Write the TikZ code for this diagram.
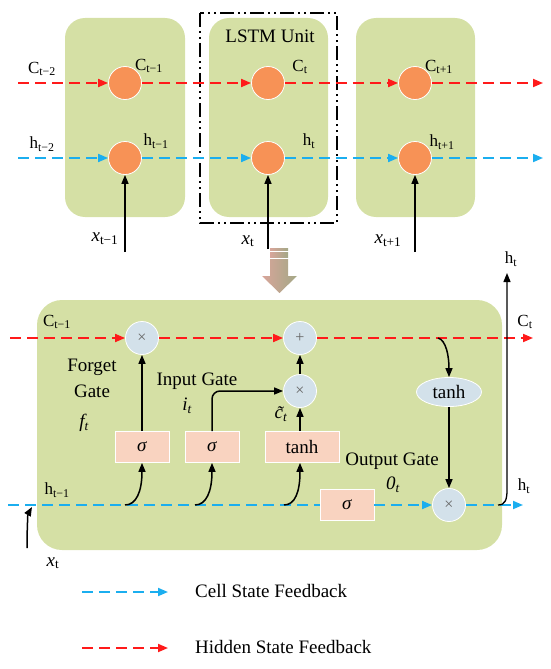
\documentclass[tikz,border=0pt]{standalone}
\usepackage{fontspec}
\setmainfont{Liberation Serif}
\usetikzlibrary{arrows.meta,shapes.geometric,calc}
\definecolor{cellgreen}{HTML}{D5E0A5}
\definecolor{orng}{HTML}{F79256}
\definecolor{opblue}{HTML}{D3E1EA}
\definecolor{gatepink}{HTML}{F9D3C0}
\definecolor{redline}{HTML}{FF1A1A}
\definecolor{blueline}{HTML}{1BAEEF}
\definecolor{arrA}{HTML}{D8A59A}
\definecolor{arrB}{HTML}{A3A886}
\tikzset{
 cellbox/.style={fill=cellgreen, draw=none, rounded corners=20pt},
 state/.style={circle, fill=orng, draw=white, line width=0.8pt, minimum size=33pt, inner sep=0pt},
 op/.style={circle, fill=opblue, draw=white, line width=0.8pt, minimum size=33pt, inner sep=0pt, font=\fontsize{16}{16}\selectfont, text=black!60},
 gatebox/.style={rectangle, fill=gatepink, draw=white, line width=0.8pt, minimum width=54pt, minimum height=31pt, inner sep=0pt, font=\fontsize{19}{19}\selectfont},
 cflow/.style={draw=redline, line width=1.8pt, dash pattern=on 11pt off 6pt, -{Triangle[length=10pt,width=8pt]}},
 hflow/.style={draw=blueline, line width=1.8pt, dash pattern=on 11pt off 6pt, -{Triangle[length=10pt,width=8pt]}},
 blk/.style={draw=black, line width=1.5pt, -{Triangle[length=9pt,width=7pt]}},
 lbl/.style={font=\fontsize{17}{17}\selectfont, inner sep=0pt},
 xlbl/.style={font=\fontsize{19}{19}\selectfont, inner sep=0pt},
 txt/.style={font=\fontsize{19}{19}\selectfont, inner sep=0pt},
}
\begin{document}
\begin{tikzpicture}[x=1pt,y=-1pt]
\useasboundingbox (0,0) rectangle (550,669);
% ---------- top: unrolled cells ----------
\fill[cellbox] (65,18) rectangle (185,217);
\fill[cellbox] (209,18) rectangle (328,217);
\fill[cellbox] (356,18) rectangle (475,217);
\draw[line width=1.8pt, dash pattern=on 14pt off 4pt on 2pt off 4pt on 2pt off 4pt] (200,13) rectangle (337,223);
\node[txt] (unit) at (270,36) {LSTM Unit};

\node[state] (c1) at (125,83) {};
\node[state] (c2) at (268,83) {};
\node[state] (c3) at (415,83) {};
\node[state] (h1) at (125,158) {};
\node[state] (h2) at (268,158) {};
\node[state] (h3) at (415,158) {};

\coordinate (cs) at (18,83);
\coordinate (ce) at (543,83);
\coordinate (hs) at (18,158);
\coordinate (he) at (543,158);
\draw[cflow] (cs) -- (c1);
\draw[cflow] (c1) -- (c2);
\draw[cflow] (c2) -- (c3);
\draw[cflow] (c3) -- (ce);
\draw[hflow] (hs) -- (h1);
\draw[hflow] (h1) -- (h2);
\draw[hflow] (h2) -- (h3);
\draw[hflow] (h3) -- (he);

\coordinate (x1) at (125,252);
\coordinate (x2) at (268,249);
\coordinate (x3) at (415,252);
\draw[blk] (x1) -- (h1);
\draw[blk] (x2) -- (h2);
\draw[blk] (x3) -- (h3);

\node[lbl] (lc0) at (42,69) {C\textsubscript{t−2}};
\node[lbl] (lh0) at (42,144) {h\textsubscript{t−2}};
\node[lbl] (lc1) at (149,66) {C\textsubscript{t−1}};
\node[lbl] (lh1) at (156,141) {h\textsubscript{t−1}};
\node[lbl] (lc2) at (300,67) {C\textsubscript{t}};
\node[lbl] (lh2) at (309,141) {h\textsubscript{t}};
\node[lbl] (lc3) at (439,67) {C\textsubscript{t+1}};
\node[lbl] (lh3) at (442,142) {h\textsubscript{t+1}};
\node[xlbl] (lx1) at (105,239) {\textit{x}\textsubscript{t−1}};
\node[xlbl] (lx2) at (248,241) {\textit{x}\textsubscript{t}};
\node[xlbl] (lx3) at (388,241) {\textit{x}\textsubscript{t+1}};

% ---------- big down arrow ----------
\shade[left color=arrA, right color=arrB] (270,248.5) rectangle (288,250.5);
\shade[left color=arrA, right color=arrB] (270,252) rectangle (288,254);
\shade[left color=arrA, right color=arrB] (270,255.5) rectangle (288,257.5);
\shade[left color=arrA, right color=arrB] (270,259) -- (288,259) -- (288,276) -- (297,276) -- (279.5,293) -- (262,276) -- (270,276) -- cycle;

% ---------- bottom: LSTM cell detail ----------
\fill[cellbox, rounded corners=25pt] (37,300) rectangle (502,550);

\node[op] (fx) at (142,338) {×};
\node[op] (addn) at (300,338) {+};
\node[op] (ix) at (300,391) {×};
\node[op] (ox) at (449,505) {×};
\node[gatebox] (fs) at (142,447) {\textit{σ}};
\node[gatebox] (is) at (212,447) {\textit{σ}};
\node[gatebox, minimum width=74pt] (ct) at (302,447) {tanh};
\node[gatebox] (os) at (347,505) {\textit{σ}};
\node[ellipse, fill=opblue, draw=white, line width=0.8pt, minimum width=65pt, minimum height=29pt, inner sep=0pt, font=\fontsize{19}{19}\selectfont] (th) at (449,392) {tanh};

\coordinate (bc0) at (10,338);
\coordinate (bce) at (533,338);
\draw[cflow] (bc0) -- (fx);
\draw[cflow] (fx) -- (addn);
\draw[cflow] (addn) -- (bce);

\coordinate (bh0) at (8,505);
\coordinate (bhe) at (523,505);
\draw[hflow, -] (bh0) -- (os);
\draw[hflow] (os) -- (ox);
\draw[hflow] (ox) -- (bhe);

\coordinate (b1) at (125,505);
\coordinate (b2) at (195,505);
\coordinate (b3) at (284,505);
\draw[blk] (b1) .. controls (136,505) and (142,492) .. (fs.south);
\draw[blk] (b2) .. controls (206,505) and (212,492) .. (is.south);
\draw[blk] (b3) .. controls (295,505) and (300,492) .. (ix |- ct.south);
\draw[blk] (fs) -- (fx);
\draw[blk] (ix |- ct.north) -- (ix);
\draw[blk] (ix) -- (addn);
\draw[blk, rounded corners=8pt] (is.north) |- (ix.west);

\coordinate (tap) at (438,338);
\draw[blk] (tap) .. controls (446,340) and (449,356) .. (th.north);
\draw[blk] (th) -- (ox);

\coordinate (hu0) at (498,505);
\coordinate (hu1) at (507,273);
\draw[blk, line width=1.3pt] (hu0) .. controls (505,505) and (507,500) .. (507,490) -- (hu1);

\coordinate (xb0) at (27,548);
\coordinate (xb1) at (32,507);
\draw[blk] (xb0) .. controls (27,528) and (28,514) .. (xb1);

\node[lbl] (bl1) at (57,322) {C\textsubscript{t−1}};
\node[lbl] (bl2) at (57,490) {h\textsubscript{t−1}};
\node[lbl] (bl3) at (511,259) {h\textsubscript{t}};
\node[lbl] (bl4) at (525,322) {C\textsubscript{t}};
\node[lbl] (bl5) at (524,486) {h\textsubscript{t}};
\node[xlbl] (bl6) at (53,563) {\textit{x}\textsubscript{t}};

\node[txt] (fg1) at (92,367) {Forget};
\node[txt] (fg2) at (92,391) {Gate};
\node[txt] (fg3) at (84,423) {\textit{f\textsubscript{t}}};
\node[txt] (ig1) at (197,381) {Input Gate};
\node[txt] (ig2) at (187,406) {\textit{i\textsubscript{t}}};
\node[txt] (ctl) at (281,414) {\textit{\~{c}\textsubscript{t}}};
\node[txt] (og1) at (392,461) {Output Gate};
\node[txt] (og2) at (393,485) {\textit{0\textsubscript{t}}};

% ---------- legend ----------
\coordinate (la1) at (82,592);
\coordinate (la2) at (168,592);
\coordinate (lb1) at (82,648);
\coordinate (lb2) at (168,648);
\draw[hflow] (la1) -- (la2);
\draw[cflow] (lb1) -- (lb2);
\node[txt, anchor=west] (lt1) at (195,591) {Cell State Feedback};
\node[txt, anchor=west] (lt2) at (195,647) {Hidden State Feedback};
\end{tikzpicture}
\end{document}
